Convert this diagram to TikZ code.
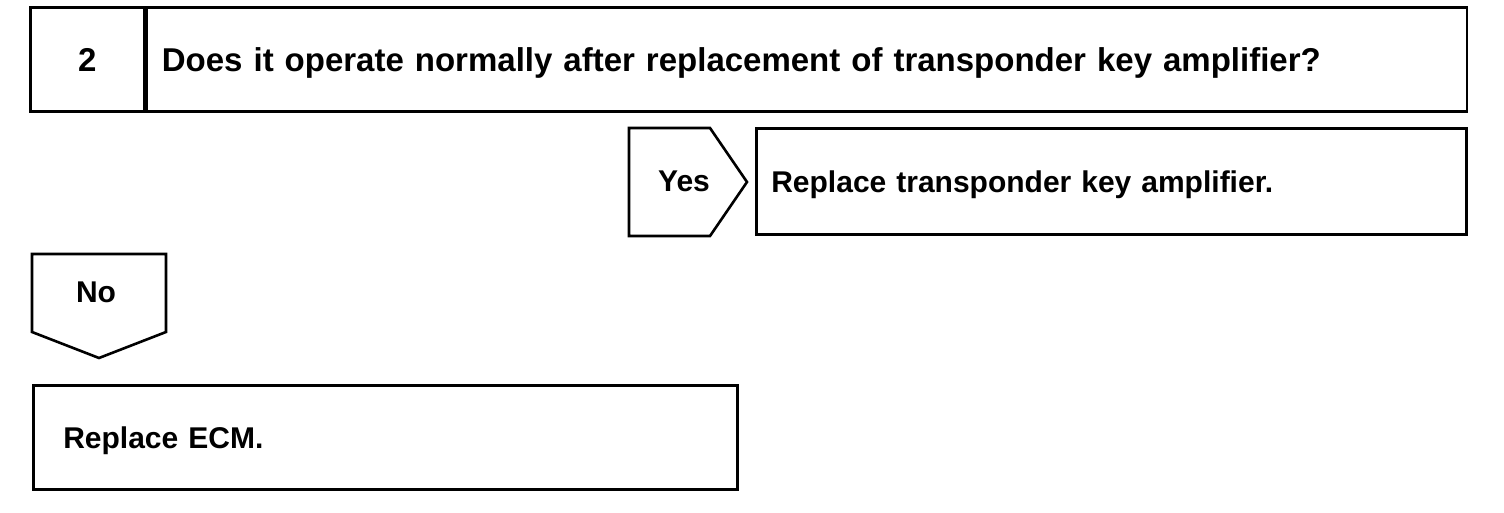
\documentclass[tikz,border=0pt]{standalone}
\usepackage{fontspec}
\setmainfont{Liberation Sans}
\usetikzlibrary{positioning}

\begin{document}
\begin{tikzpicture}[
    x=1pt, y=-1pt,
    cell/.style={rectangle, draw, line width=2.6pt, inner ysep=0pt, align=left, font=\bfseries\fontsize{30}{36}\selectfont, text height=21.5pt, text depth=0pt},
    big/.style={font=\bfseries\fontsize{33}{40}\selectfont, text height=23.6pt},
    tag/.style={draw, line width=2.6pt, line join=miter},
    word/.style={font=\bfseries\fontsize{30}{36}\selectfont, text height=21.5pt, text depth=0pt, inner sep=0pt},
]
\useasboundingbox (0,0) rectangle (1504,512);

\node[cell, big, anchor=north west, minimum width=114pt, minimum height=104pt, inner xsep=0pt, align=center] (num) at (29,6) {2};
\node[cell, big, right=0pt of num, minimum width=1320pt, minimum height=104pt, inner xsep=15pt, text width=1290pt] (ask) {Does it operate normally after replacement of transponder key amplifier?};

\draw[tag] (629,128) -- (710,128) -- (747,182) -- (710,236) -- (629,236) -- cycle;
\node[word] (yes) at (684,181) {Yes};
\node[cell, anchor=north west, minimum width=710pt, minimum height=106pt, inner xsep=15pt, text width=680pt] (fixamp) at (755,127) {Replace transponder key amplifier.};

\draw[tag] (32,254) -- (166,254) -- (166,332) -- (99,358) -- (32,332) -- cycle;
\node[word] (no) at (96,292) {No};
\node[cell, anchor=north west, minimum width=704pt, minimum height=104pt, inner xsep=30pt, text width=644pt] (fixecm) at (32,384) {Replace ECM.};

\end{tikzpicture}
\end{document}
